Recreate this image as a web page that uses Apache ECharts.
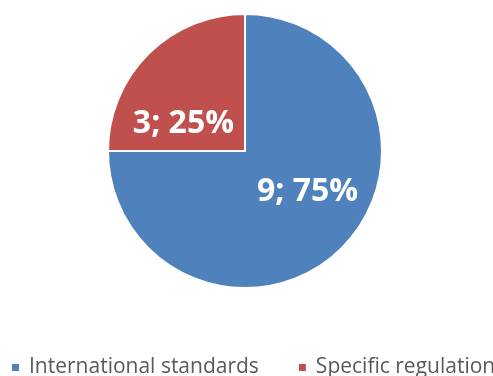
<!DOCTYPE html>
<html><head><meta charset="utf-8">
<script src="https://cdn.jsdelivr.net/npm/echarts@6/dist/echarts.min.js"></script>
<style>html,body{margin:0;padding:0;background:#fff}#c{width:493px;height:376px}</style>
</head><body><div id="c"></div>
<script>
const categories = ["International standards", "Specific regulation"];
const values = [9, 3];
const colors = ["#4F81BD", "#C0504D"];
const labelShift = [[12, -10], [-11, 23]];

const chart = echarts.init(document.getElementById('c'));
const total = values.reduce((a, b) => a + b, 0);
chart.setOption({
  animation: false,
  legend: {
    bottom: -7, left: 5, width: 700, orient: 'horizontal',
    icon: 'rect', itemWidth: 9, itemHeight: 9, itemGap: 38,
    textStyle: { fontFamily: 'Open Sans', fontSize: 21, color: '#595959', padding: [0, 0, 0, 4] },
    data: categories
  },
  series: [{
    type: 'pie',
    center: [245, 151],
    radius: [0, 137],
    startAngle: 90,
    clockwise: true,
    itemStyle: { borderColor: '#fff', borderWidth: 2 },
    label: {
      position: 'inside',
      formatter: p => p.value + '; ' + Math.round(p.value / total * 100) + '%',
      color: '#fff', fontFamily: 'Open Sans', fontWeight: 'bold', fontSize: 32
    },
    labelLine: { show: false },
    labelLayout: p => ({ dx: labelShift[p.dataIndex][0], dy: labelShift[p.dataIndex][1] }),
    data: categories.map((c, i) => ({ name: c, value: values[i], itemStyle: { color: colors[i] } }))
  }]
});
</script></body></html>
